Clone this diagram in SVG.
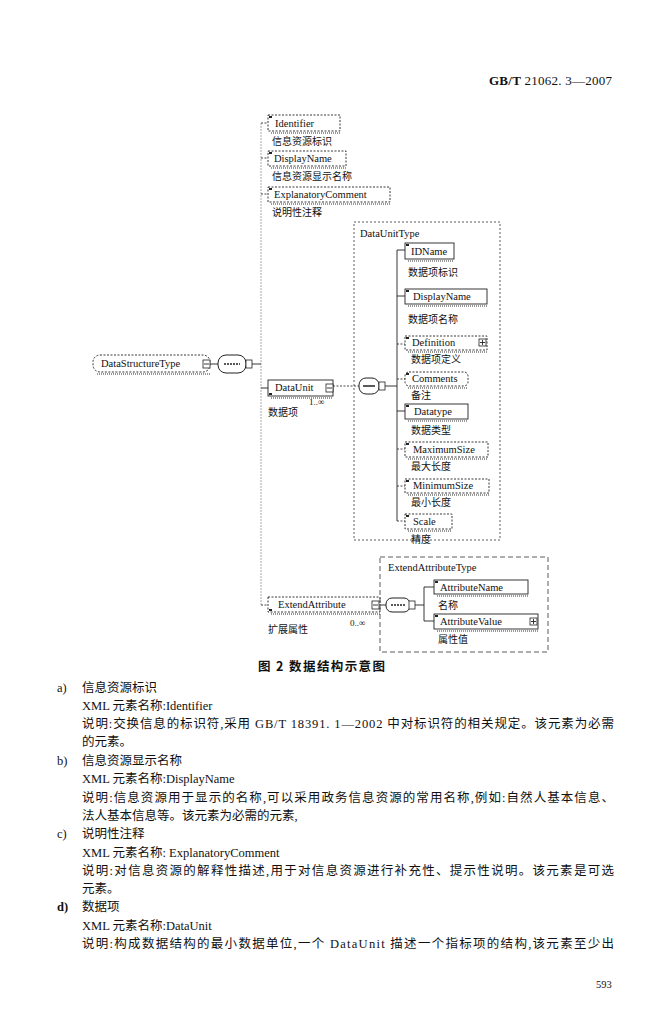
<svg xmlns="http://www.w3.org/2000/svg" width="670" height="1024" viewBox="0 0 670 1024">
<style>
text{font-family:"Liberation Serif","Noto Sans CJK SC",serif;fill:#111}
.lbl{font-size:10.5px}
.cn{font-size:10px;font-family:"Noto Sans CJK SC",sans-serif}
.body{font-size:12.5px;font-family:"Liberation Serif","Noto Sans CJK SC",serif}
.opt{fill:#fff;stroke:#222;stroke-width:0.9;stroke-dasharray:2 1.5}
.req{fill:#fff;stroke:#222;stroke-width:0.9}
.shadow{fill:none;stroke:#777;stroke-width:1.5;stroke-dasharray:1 1}
.frame{fill:none;stroke:#333;stroke-width:0.8;stroke-dasharray:2 2}
.frame2{fill:none;stroke:#333;stroke-width:0.8;stroke-dasharray:5 3}
.ln{stroke:#222;stroke-width:0.9;fill:none}
.dln{stroke:#333;stroke-width:0.9;fill:none;stroke-dasharray:2 1.5}
.gln{stroke:#aaa;stroke-width:1;fill:none;stroke-dasharray:2 1}
.sq{fill:#fff;stroke:#222;stroke-width:0.8}
.seq{fill:#fff;stroke:#222;stroke-width:1}
.ico{fill:#222}
</style>
<rect width="670" height="1024" fill="#fff"/>
<g id="header">
<text x="489" y="85" style="font-size:13px" textLength="123" lengthAdjust="spacing"><tspan font-weight="bold">GB/T</tspan> 21062. 3—2007</text>
</g>
<g id="connectors">
<line class="gln" x1="261" y1="123" x2="261" y2="605"/>
<line class="ln" x1="252" y1="364" x2="261" y2="364"/>
<line class="dln" x1="261" y1="123" x2="268" y2="123"/>
<line class="dln" x1="261" y1="158" x2="268" y2="158"/>
<line class="dln" x1="261" y1="194" x2="268" y2="194"/>
<line class="ln" x1="261" y1="388" x2="268" y2="388"/>
<line class="dln" x1="261" y1="605" x2="268" y2="605"/>
<line class="dln" x1="333" y1="386" x2="359" y2="386"/>
<line class="ln" x1="384" y1="386" x2="397" y2="386"/>
<line class="ln" x1="397" y1="250" x2="397" y2="521"/>
<line class="ln" x1="397" y1="250" x2="405" y2="250"/>
<line class="ln" x1="397" y1="296" x2="405" y2="296"/>
<line class="dln" x1="397" y1="344" x2="405" y2="344"/>
<line class="dln" x1="397" y1="379" x2="405" y2="379"/>
<line class="ln" x1="397" y1="411" x2="405" y2="411"/>
<line class="dln" x1="397" y1="449" x2="405" y2="449"/>
<line class="dln" x1="397" y1="486" x2="405" y2="486"/>
<line class="dln" x1="397" y1="521" x2="405" y2="521"/>
<line class="ln" x1="380" y1="605" x2="386" y2="605"/>
<line class="ln" x1="415" y1="605" x2="424" y2="605"/>
<line class="ln" x1="424" y1="587" x2="424" y2="621"/>
<line class="ln" x1="424" y1="587" x2="434" y2="587"/>
<line class="ln" x1="424" y1="621" x2="434" y2="621"/>
<line class="ln" x1="210" y1="364" x2="218" y2="364"/>
</g>
<g id="DataStructureType">
<rect class="opt" x="93" y="355" width="117" height="17" rx="7"/>
<line class="shadow" x1="97" y1="374" x2="210" y2="374"/>
<text class="lbl" x="101" y="367">DataStructureType</text>
<rect class="sq" x="203" y="360" width="7" height="8"/>
<line class="ln" x1="204" y1="364" x2="209" y2="364"/>
</g>
<g id="seq1">
<rect class="seq" x="218" y="355" width="28" height="18" rx="8"/>
<line class="ln" x1="224" y1="364" x2="240" y2="364" style="stroke-dasharray:2 1;stroke-width:1.5"/>
<rect class="sq" x="246" y="360" width="6" height="8"/>
</g>
<g id="Identifier">
<rect class="opt" x="268" y="115" width="72" height="16"/>
<line class="shadow" x1="271" y1="133" x2="340" y2="133"/>
<rect class="ico" x="269" y="116" width="3" height="2"/>
<text class="lbl" x="275" y="127">Identifier</text>
<text class="cn" x="272" y="145">信息资源标识</text>
</g>
<g id="DisplayName1">
<rect class="opt" x="268" y="151" width="78" height="15"/>
<line class="shadow" x1="271" y1="168" x2="346" y2="168"/>
<rect class="ico" x="269" y="152" width="3" height="2"/>
<text class="lbl" x="274" y="162">DisplayName</text>
<text class="cn" x="272" y="180">信息资源显示名称</text>
</g>
<g id="ExplanatoryComment">
<rect class="opt" x="268" y="187" width="122" height="15"/>
<line class="shadow" x1="271" y1="204" x2="390" y2="204"/>
<rect class="ico" x="269" y="188" width="3" height="2"/>
<text class="lbl" x="274" y="198">ExplanatoryComment</text>
<text class="cn" x="272" y="216">说明性注释</text>
</g>
<g id="DataUnit">
<rect class="req" x="268" y="380" width="65" height="16"/>
<line class="shadow" x1="271" y1="398" x2="333" y2="398"/>
<rect class="ico" x="269" y="393" width="3" height="2"/>
<text class="lbl" x="275" y="391">DataUnit</text>
<rect class="sq" x="326" y="384" width="7" height="8"/>
<line class="ln" x1="327" y1="388" x2="332" y2="388"/>
<text class="lbl" x="309" y="405" style="font-size:9px">1..∞</text>
<text class="cn" x="268" y="416">数据项</text>
</g>
<g id="DataUnitType">
<rect class="frame" x="354" y="222" width="146" height="318"/>
<text class="lbl" x="360" y="237">DataUnitType</text>
</g>
<g id="seq2">
<rect class="seq" x="359" y="378" width="20" height="16" rx="7"/>
<line class="ln" x1="363" y1="386" x2="375" y2="386" style="stroke-width:1.5"/>
<rect class="sq" x="379" y="382" width="6" height="8"/>
</g>
<g id="IDName">
<rect class="req" x="405" y="243" width="49" height="16"/>
<line class="shadow" x1="408" y1="261" x2="454" y2="261"/>
<rect class="ico" x="406" y="244" width="3" height="2"/>
<text class="lbl" x="411" y="255">IDName</text>
<text class="cn" x="408" y="276">数据项标识</text>
</g>
<g id="DisplayName2">
<rect class="req" x="405" y="289" width="82" height="15"/>
<line class="shadow" x1="408" y1="306" x2="487" y2="306"/>
<rect class="ico" x="406" y="290" width="3" height="2"/>
<text class="lbl" x="413" y="300">DisplayName</text>
<text class="cn" x="408" y="323">数据项名称</text>
</g>
<g id="Definition">
<rect class="opt" x="405" y="336" width="82" height="14"/>
<line class="shadow" x1="408" y1="352" x2="487" y2="352"/>
<rect class="ico" x="406" y="337" width="3" height="2"/>
<text class="lbl" x="412" y="346">Definition</text>
<rect class="sq" x="479" y="339" width="7" height="7"/>
<line class="ln" x1="480" y1="342.5" x2="485" y2="342.5"/>
<line class="ln" x1="482.5" y1="340" x2="482.5" y2="345"/>
<text class="cn" x="411" y="363">数据项定义</text>
</g>
<g id="Comments">
<rect class="opt" x="405" y="372" width="63" height="14" rx="4"/>
<line class="shadow" x1="408" y1="388" x2="468" y2="388"/>
<rect class="ico" x="406" y="373" width="3" height="2"/>
<text class="lbl" x="412" y="382">Comments</text>
<text class="cn" x="411" y="399">备注</text>
</g>
<g id="Datatype">
<rect class="req" x="405" y="404" width="63" height="15"/>
<line class="shadow" x1="408" y1="421" x2="468" y2="421"/>
<rect class="ico" x="406" y="405" width="3" height="2"/>
<text class="lbl" x="414" y="415">Datatype</text>
<text class="cn" x="411" y="434">数据类型</text>
</g>
<g id="MaximumSize">
<rect class="opt" x="405" y="442" width="83" height="15"/>
<line class="shadow" x1="408" y1="459" x2="488" y2="459"/>
<rect class="ico" x="406" y="443" width="3" height="2"/>
<text class="lbl" x="413" y="453">MaximumSize</text>
<text class="cn" x="411" y="470">最大长度</text>
</g>
<g id="MinimumSize">
<rect class="opt" x="405" y="479" width="84" height="14"/>
<line class="shadow" x1="408" y1="495" x2="489" y2="495"/>
<rect class="ico" x="406" y="480" width="3" height="2"/>
<text class="lbl" x="413" y="489">MinimumSize</text>
<text class="cn" x="411" y="506">最小长度</text>
</g>
<g id="Scale">
<rect class="opt" x="405" y="514" width="47" height="15"/>
<line class="shadow" x1="408" y1="531" x2="452" y2="531"/>
<rect class="ico" x="406" y="515" width="3" height="2"/>
<text class="lbl" x="413" y="525">Scale</text>
<text class="cn" x="411" y="543">精度</text>
</g>
<g id="ExtendAttribute">
<rect class="opt" x="268" y="597" width="112" height="15"/>
<line class="shadow" x1="271" y1="614" x2="380" y2="614"/>
<rect class="ico" x="269" y="609" width="3" height="2"/>
<text class="lbl" x="278" y="608">ExtendAttribute</text>
<rect class="sq" x="372" y="601" width="7" height="8"/>
<line class="ln" x1="373" y1="605" x2="378" y2="605"/>
<text class="lbl" x="350" y="626" style="font-size:9px">0..∞</text>
<text class="cn" x="268" y="633">扩展属性</text>
</g>
<g id="ExtendAttributeType">
<rect class="frame2" x="380" y="557" width="168" height="95"/>
<text class="lbl" x="388" y="571">ExtendAttributeType</text>
</g>
<g id="seq3">
<rect class="seq" x="386" y="598" width="24" height="14" rx="6"/>
<line class="ln" x1="391" y1="605" x2="405" y2="605" style="stroke-dasharray:2 1;stroke-width:1.5"/>
<rect class="sq" x="409" y="601" width="6" height="8"/>
</g>
<g id="AttributeName">
<rect class="req" x="434" y="580" width="94" height="14"/>
<line class="shadow" x1="437" y1="596" x2="528" y2="596"/>
<rect class="ico" x="435" y="581" width="3" height="2"/>
<text class="lbl" x="440" y="591">AttributeName</text>
<text class="cn" x="438" y="609">名称</text>
</g>
<g id="AttributeValue">
<rect class="req" x="434" y="614" width="104" height="15"/>
<line class="shadow" x1="437" y1="631" x2="538" y2="631"/>
<rect class="ico" x="435" y="615" width="3" height="2"/>
<text class="lbl" x="440" y="625">AttributeValue</text>
<rect class="sq" x="530" y="618" width="7" height="7"/>
<line class="ln" x1="531" y1="621.5" x2="536" y2="621.5"/>
<line class="ln" x1="533.5" y1="619" x2="533.5" y2="624"/>
<text class="cn" x="438" y="643">属性值</text>
</g>
<g id="caption">
<text x="258" y="671" style="font-size:12.5px;font-weight:bold;font-family:'Noto Sans CJK SC',sans-serif" textLength="127" lengthAdjust="spacing">图 2   数据结构示意图</text>
</g>
<g id="body">
<text class="body" x="57" y="692">a)</text>
<text class="body" x="82" y="692">信息资源标识</text>
<text class="body" x="82" y="710">XML 元素名称:Identifier</text>
<text class="body" x="82" y="728" textLength="532" lengthAdjust="spacing">说明:交换信息的标识符,采用 GB/T 18391. 1—2002 中对标识符的相关规定。该元素为必需</text>
<text class="body" x="82" y="746">的元素。</text>
<text class="body" x="57" y="765">b)</text>
<text class="body" x="82" y="765">信息资源显示名称</text>
<text class="body" x="82" y="783">XML 元素名称:DisplayName</text>
<text class="body" x="82" y="802" textLength="532" lengthAdjust="spacing">说明:信息资源用于显示的名称,可以采用政务信息资源的常用名称,例如:自然人基本信息、</text>
<text class="body" x="82" y="820">法人基本信息等。该元素为必需的元素,</text>
<text class="body" x="57" y="838">c)</text>
<text class="body" x="82" y="838">说明性注释</text>
<text class="body" x="82" y="857">XML 元素名称: ExplanatoryComment</text>
<text class="body" x="82" y="875" textLength="532" lengthAdjust="spacing">说明:对信息资源的解释性描述,用于对信息资源进行补充性、提示性说明。该元素是可选</text>
<text class="body" x="82" y="893">元素。</text>
<text class="body" x="57" y="911" style="font-weight:bold">d)</text>
<text class="body" x="82" y="911">数据项</text>
<text class="body" x="82" y="930">XML 元素名称:DataUnit</text>
<text class="body" x="82" y="948" textLength="532" lengthAdjust="spacing">说明:构成数据结构的最小数据单位,一个 DataUnit 描述一个指标项的结构,该元素至少出</text>
<text class="body" x="596" y="988" style="font-size:10.5px">593</text>
</g>
</svg>
